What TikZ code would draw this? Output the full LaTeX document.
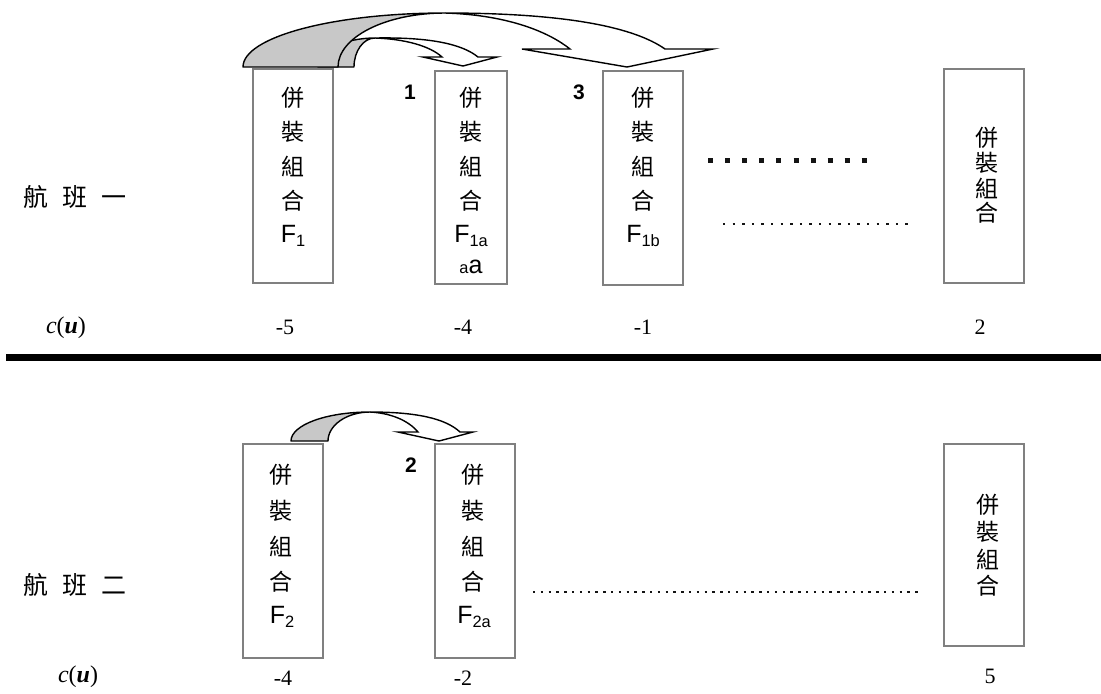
\documentclass[tikz,border=0pt]{standalone}
\usepackage{fontspec}
\setmainfont{Liberation Serif}
\newfontfamily\cjk{Noto Sans CJK TC}
\newfontfamily\arial{Liberation Sans}
\definecolor{boxgray}{RGB}{128,128,128}
\definecolor{backgray}{RGB}{200,200,200}
\definecolor{dotink}{RGB}{20,20,20}
\newcommand\lowsub[1]{\raisebox{-1.7pt}{\fontsize{8.2}{9}\selectfont #1}}
\begin{document}
\begin{tikzpicture}[x=0.5pt,y=-0.5pt,
  cell/.style={draw=boxgray,line width=0.75pt,inner sep=0pt,minimum width=40pt,minimum height=107pt},
  glyph/.style={font=\cjk\fontsize{11.5}{12}\selectfont,inner sep=0pt},
  rowname/.style={font=\cjk\fontsize{12.5}{14}\selectfont,inner sep=0pt},
  ftag/.style={font=\arial\fontsize{12.5}{14}\selectfont,inner sep=0pt},
  steplabel/.style={font=\arial\bfseries\fontsize{10.5}{12}\selectfont,inner sep=0pt},
  cost/.style={font=\fontsize{11}{13}\selectfont,inner sep=0pt},
  costname/.style={font=\fontsize{12}{14}\selectfont,inner sep=0pt},
  backface/.style={fill=backgray,draw=black,line width=0.7pt,line join=round},
  frontface/.style={fill=white,draw=black,line width=0.7pt,line join=miter},
  bigdots/.style={dotink,line width=2.5pt,dash pattern=on 2.5pt off 6.02pt},
  finedots/.style={dotink,line width=1.2pt,dash pattern=on 1.2pt off 3.6pt},
  finerdots/.style={dotink,line width=1.2pt,dash pattern=on 1.2pt off 2.7pt}]
\useasboundingbox (0,0) rectangle (1101,693);

% ---------- flight one ----------
\node[rowname] (row1) at (75,197) {航\hspace{7pt}班\hspace{7pt}一};
\node[costname] (cu1) at (66,328) {\textit{c}(\textbf{\textit{u}})};

\node[cell] (F1)  at (293,176) {};
\node[cell,minimum width=36pt,minimum height=106.5pt] (F1a) at (471,177.5) {};
\node[cell] (F1b) at (643,178) {};
\node[cell] (R1)  at (984,176) {};

\foreach \ch [count=\i from 0] in {併,裝,組,合} {
  \node[glyph] (p\i) at (293,98+34.3*\i) {\ch};
  \node[glyph] (q\i) at (471,98+34.3*\i) {\ch};
  \node[glyph] (r\i) at (643,98+34.3*\i) {\ch};
  \node[glyph] (s\i) at (987,138+25*\i) {\ch};
}
\node[ftag] (tF1)  at (293,236) {F\lowsub{1}};
\node[ftag] (tF1a) at (471,236) {F\lowsub{1a}};
\node[ftag] (tF1x) at (471,267) {{\fontsize{8.2}{9}\selectfont a}a};
\node[ftag] (tF1b) at (643,236) {F\lowsub{1b}};

\node[cost] (c11) at (285,327) {-5};
\node[cost] (c12) at (463,327) {-4};
\node[cost] (c13) at (643,327) {-1};
\node[cost] (c14) at (980,327) {2};

\draw[bigdots]  (708.3,160) -- (867.3,160);
\draw[finedots] (723,224) -- (915,224);

% move 1: F1 -> F1a (drawn first, it sits behind move 3)
\draw[backface] (318,67) .. controls (318,51) and (343.5,38) .. (375,38)
  .. controls (363.4,38) and (354,51) .. (354,67) -- cycle;
\draw[frontface] (375,38) .. controls (430,37) and (462,44) .. (478,57)
  -- (497,57) -- (463,66) -- (423,57) -- (442,57)
  .. controls (430,46) and (405,39) .. (375,38) -- cycle;
% move 3: F1 -> F1b
\draw[backface] (243,67) .. controls (243,37) and (333,13) .. (445,13)
  .. controls (386,13) and (338,37) .. (338,67) -- cycle;
\draw[frontface] (445,13) .. controls (570,13) and (635,28) .. (665,49)
  -- (713,49) -- (627,67) -- (522,49) -- (570,49)
  .. controls (550,33) and (510,15) .. (445,13) -- cycle;

\node[steplabel] (m1) at (410,92) {1};
\node[steplabel] (m3) at (579,92) {3};

% ---------- separator ----------
\draw[line width=3.5pt] (6,357) -- (1101,357);

% ---------- flight two ----------
\node[rowname] (row2) at (75,585) {航\hspace{7pt}班\hspace{7pt}二};
\node[costname] (cu2) at (78,677) {\textit{c}(\textbf{\textit{u}})};

\node[cell] (F2)  at (283,551) {};
\node[cell] (F2a) at (475,551) {};
\node[cell,minimum height=101pt] (R2) at (984,545) {};

\foreach \ch [count=\i from 0] in {併,裝,組,合} {
  \node[glyph] (u\i) at (281,475+35.5*\i) {\ch};
  \node[glyph] (v\i) at (473,475+35.5*\i) {\ch};
  \node[glyph] (w\i) at (988,505+27*\i) {\ch};
}
\node[ftag] (tF2)  at (282,617) {F\lowsub{2}};
\node[ftag] (tF2a) at (474,617) {F\lowsub{2a}};

\node[cost] (c21) at (283,678) {-4};
\node[cost] (c22) at (463,678) {-2};
\node[cost] (c23) at (990,676) {5};

\draw[finerdots] (533,592) -- (921,592);

% move 2: F2 -> F2a
\draw[backface] (291,441) .. controls (291,425) and (326,412) .. (370,412)
  .. controls (347,412) and (328,425) .. (328,441) -- cycle;
\draw[frontface] (370,412) .. controls (415,412) and (445,418) .. (460,432)
  -- (473,432) -- (439,441) -- (398,432) -- (418,432)
  .. controls (408,420) and (390,413) .. (370,412) -- cycle;

\node[steplabel] (m2) at (411,465) {2};
\end{tikzpicture}
\end{document}
